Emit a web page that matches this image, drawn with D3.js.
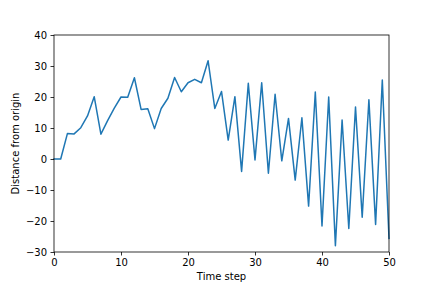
<!DOCTYPE html>
<html>
<head>
<meta charset="utf-8">
<script src="https://cdn.jsdelivr.net/npm/d3@7"></script>
<style>
  body { margin: 0; background: #fff; }
  svg { display: block; }
  text { font-family: "DejaVu Sans", sans-serif; fill: #000; }
</style>
</head>
<body>
<div id="chart"></div>
<script>
// distance from origin at each time step
const steps = d3.range(0, 51);
const distance = [
  0, 0, 8.2, 8.1, 10.1, 13.9, 20.1, 8, 12.4, 16.4,
  20, 19.9, 26.2, 16, 16.2, 9.8, 16.3, 19.6, 26.3, 21.7,
  24.6, 25.7, 24.6, 31.7, 16.3, 21.8, 6.1, 20.1, -4, 24.4,
  -0.3, 24.6, -4.6, 20.9, -0.6, 13.1, -6.8, 13.3, -15.2, 21.6,
  -21.6, 20, -28, 12.6, -22.4, 16.8, -18.8, 19.1, -21.1, 25.5,
  -25.6
];
const xTicks = [0, 10, 20, 30, 40, 50];
const yTicks = [-30, -20, -10, 0, 10, 20, 30, 40];

const width = 432, height = 288;
const margin = { top: 35, right: 43, bottom: 36, left: 54 };

const svg = d3.select("#chart").append("svg")
  .attr("width", width)
  .attr("height", height);

const x = d3.scaleLinear().domain([0, 50]).range([margin.left, width - margin.right]);
const y = d3.scaleLinear().domain([-30, 40]).range([height - margin.bottom, margin.top]);

// line
const line = d3.line()
  .x((d, i) => x(steps[i]))
  .y((d) => y(d));

svg.append("path")
  .datum(distance)
  .attr("fill", "none")
  .attr("stroke", "#1f77b4")
  .attr("stroke-width", 1.5)
  .attr("stroke-linejoin", "round")
  .attr("stroke-linecap", "square")
  .attr("d", line);

// axes
const xAxis = svg.append("g")
  .attr("transform", `translate(0,${height - margin.bottom})`)
  .call(d3.axisBottom(x).tickValues(xTicks).tickSize(3.5).tickPadding(3.5).tickFormat(d3.format("d")));

const yAxis = svg.append("g")
  .attr("transform", `translate(${margin.left},0)`)
  .call(d3.axisLeft(y).tickValues(yTicks).tickSize(3.5).tickPadding(3.5)
    .tickFormat((d) => (d < 0 ? "\u2212" + Math.abs(d) : d)));

[xAxis, yAxis].forEach((g) => {
  g.select(".domain").remove();
  g.selectAll(".tick line").attr("stroke", "#000").attr("stroke-width", 0.8);
  g.selectAll(".tick text")
    .attr("font-size", "10px")
    .attr("font-family", "DejaVu Sans, sans-serif")
    .attr("fill", "#000");
});

// frame
svg.append("rect")
  .attr("x", margin.left)
  .attr("y", margin.top)
  .attr("width", width - margin.left - margin.right)
  .attr("height", height - margin.top - margin.bottom)
  .attr("fill", "none")
  .attr("stroke", "#000")
  .attr("stroke-width", 0.8);

// labels
svg.append("text")
  .attr("x", (margin.left + width - margin.right) / 2)
  .attr("y", 280)
  .attr("text-anchor", "middle")
  .attr("font-size", "10px")
  .text("Time step");

svg.append("text")
  .attr("transform", `translate(19,${(margin.top + height - margin.bottom) / 2}) rotate(-90)`)
  .attr("text-anchor", "middle")
  .attr("font-size", "10px")
  .text("Distance from origin");
</script>
</body>
</html>
